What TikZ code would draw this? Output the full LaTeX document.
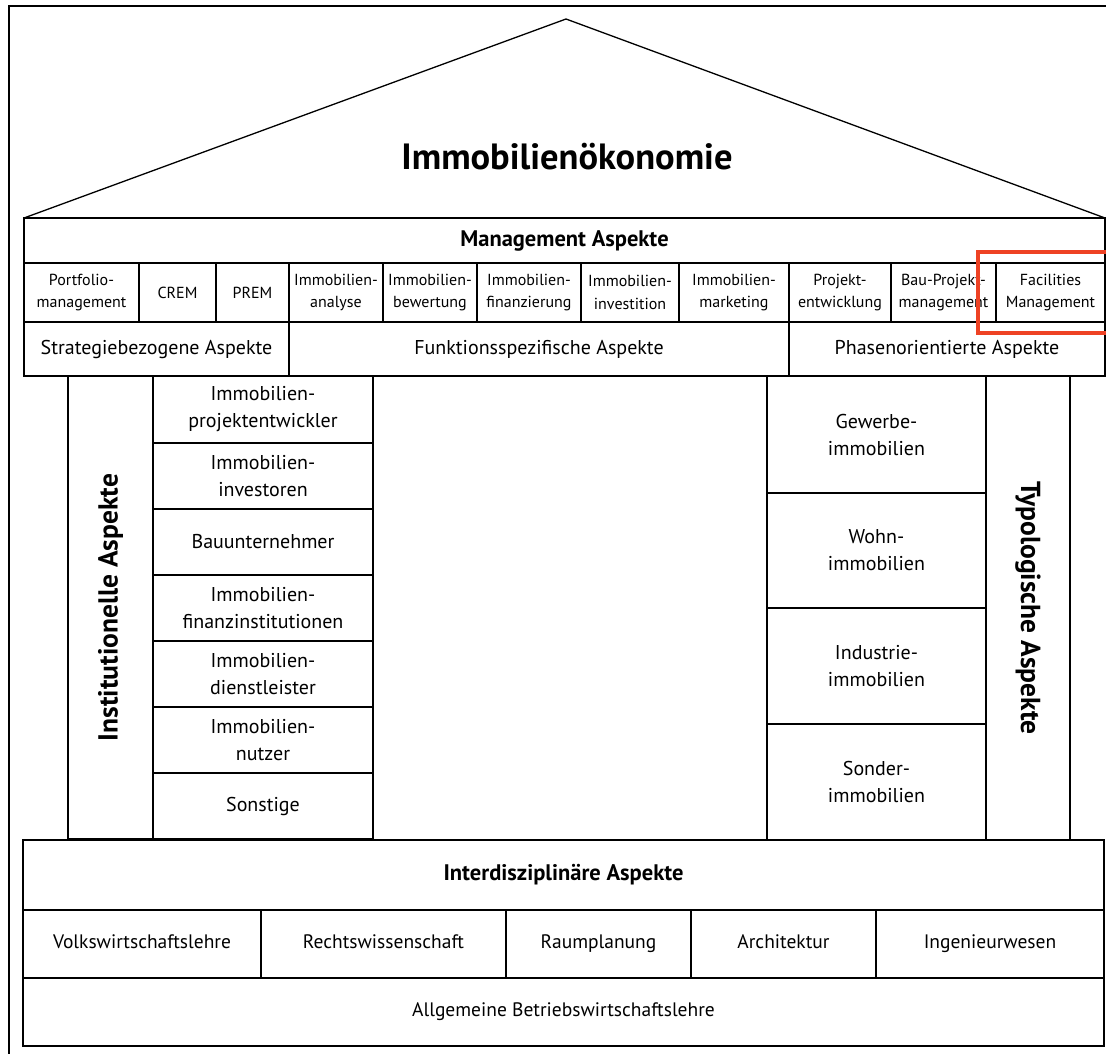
\documentclass[tikz,border=0pt]{standalone}
\usepackage{fontspec}
\setmainfont{PT Sans}
\definecolor{hl}{RGB}{238,66,36}
% a framed cell given by its corners (x1,y1) and (x2,y2), y pointing down
\newcommand\cell[7][]{%
  \node[cell,#1,minimum width={(#5)-(#3)},minimum height={(#6)-(#4)}]
    (#2) at ({((#3)+(#5))/2},{((#4)+(#6))/2}) {#7};}
\begin{document}
\begin{tikzpicture}[x=1pt,y=-1pt,
  line join=miter,
  cell/.style={draw,line width=1.3pt,inner sep=0pt,align=center,
    font=\fontsize{20}{27}\selectfont},
  small/.style={font=\fontsize{16}{22.5}\selectfont},
  base/.style={font=\fontsize{19.5}{24}\selectfont,text height=14pt,text depth=4.5pt},
  head/.style={font=\bfseries\fontsize{22.5}{26}\selectfont},
  title/.style={font=\bfseries\fontsize{36.5}{42}\selectfont,inner sep=0pt},
  vlabel/.style={font=\bfseries\fontsize{27.5}{32}\selectfont,inner sep=0pt},
  frame/.style={line width=2.6pt},
  roof/.style={line width=1.3pt},
  mark box/.style={draw=hl,line width=4pt}]
\useasboundingbox (0,0) rectangle (1106,1054);

% page frame
\coordinate (fTL) at (9,6);
\coordinate (fTR) at (1112,6);
\coordinate (fBL) at (9,1060);
\draw[frame] (fBL) -- (fTL) -- (fTR);

% roof
\coordinate (rL) at (24,218);
\coordinate (rTop) at (566,19);
\coordinate (rR) at (1105,218);
\draw[roof] (rL) -- (rTop) -- (rR);
\node[title] (ttl) at (567,157) {Immobilienökonomie};

% management aspects
\cell[head]{mgmt}{24}{218}{1105}{263}{Management Aspekte}
\cell[small]{m1}{24}{263}{139}{322}{Portfolio-\\management}
\cell[small]{m2}{139}{263}{216}{322}{CREM}
\cell[small]{m3}{216}{263}{289}{322}{PREM}
\cell[small]{m4}{289}{263}{383}{322}{Immobilien-\\analyse}
\cell[small]{m5}{383}{263}{477}{322}{Immobilien-\\bewertung}
\cell[small]{m6}{477}{263}{581}{322}{Immobilien-\\finanzierung}
\cell[small]{m7}{581}{263}{679}{322}{Immobilien-\\investition}
\cell[small]{m8}{679}{263}{789}{322}{Immobilien-\\marketing}
\cell[small]{m9}{789}{263}{891}{322}{Projekt-\\entwicklung}
\cell[small]{m10}{891}{263}{996}{322}{Bau-Projekt-\\management}
\cell[small]{m11}{996}{263}{1105}{322}{Facilities\\Management}
\cell{a1}{24}{322}{289}{376}{Strategiebezogene Aspekte}
\cell{a2}{289}{322}{789}{376}{Funktionsspezifische Aspekte}
\cell{a3}{789}{322}{1105}{376}{Phasenorientierte Aspekte}

% left pillar
\cell{instcol}{68}{376}{153}{839}{}
\node[vlabel,rotate=90] (inst) at (instcol.center) {Institutionelle Aspekte};
\cell{i1}{153}{376}{373}{443}{Immobilien-\\projektentwickler}
\cell{i2}{153}{443}{373}{509}{Immobilien-\\investoren}
\cell{i3}{153}{509}{373}{575}{Bauunternehmer}
\cell{i4}{153}{575}{373}{641}{Immobilien-\\finanzinstitutionen}
\cell{i5}{153}{641}{373}{707}{Immobilien-\\dienstleister}
\cell{i6}{153}{707}{373}{773}{Immobilien-\\nutzer}
\cell{i7}{153}{773}{373}{839}{Sonstige}

% right pillar
\cell{t1}{767}{376}{986}{493}{Gewerbe-\\immobilien}
\cell{t2}{767}{493}{986}{608}{Wohn-\\immobilien}
\cell{t3}{767}{608}{986}{724}{Industrie-\\immobilien}
\cell{t4}{767}{724}{986}{840}{Sonder-\\immobilien}
\cell{typcol}{986}{376}{1070}{840}{}
\node[vlabel,rotate=-90] (typ) at (typcol.center) {Typologische Aspekte};

% foundation
\cell[head]{inter}{23}{840}{1104}{910}{Interdisziplinäre Aspekte}
\cell[base]{b1}{23}{910}{261}{978}{Volkswirtschaftslehre}
\cell[base]{b2}{261}{910}{506}{978}{Rechtswissenschaft}
\cell[base]{b3}{506}{910}{691}{978}{Raumplanung}
\cell[base]{b4}{691}{910}{876}{978}{Architektur}
\cell[base]{b5}{876}{910}{1104}{978}{Ingenieurwesen}
\cell[base]{abwl}{23}{978}{1104}{1046}{Allgemeine Betriebswirtschaftslehre}

% highlight around Facilities Management
\coordinate (hTL) at (978,252);
\coordinate (hBR) at (1116,333);
\draw[mark box] (hTL) rectangle (hBR);
\end{tikzpicture}
\end{document}
